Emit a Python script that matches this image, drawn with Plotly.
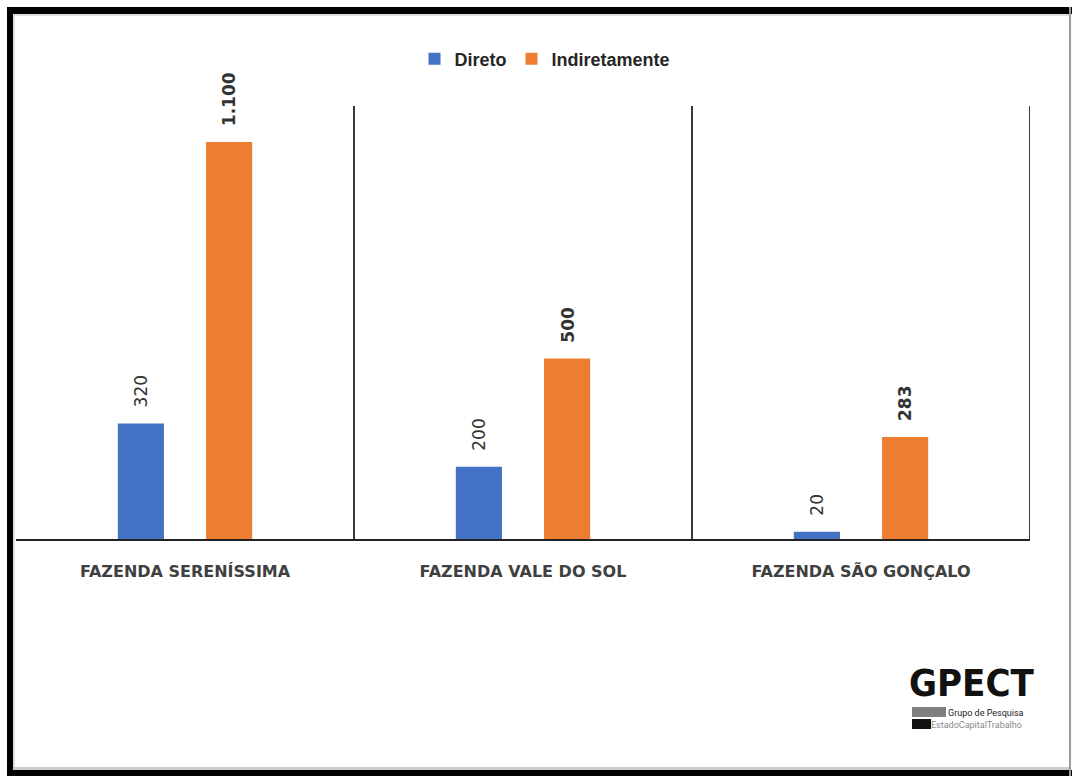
import plotly.graph_objects as go

categories = ["FAZENDA SERENÍSSIMA", "FAZENDA VALE DO SOL", "FAZENDA SÃO GONÇALO"]
direto = [320, 200, 20]
indiretamente = [1100, 500, 283]
series_names = ["Direto", "Indiretamente"]
colors = ["#4472C4", "#ED7D31"]

W, H = 1072, 776
L, R, T, B = 16, 1030, 106, 539  # plot area in page pixels
BARGAP, BARGROUPGAP = 0.478, 0.477


def px(x):
    return (x - L) / (R - L)


def py(y):
    return (B - y) / (B - T)


def fmt(v):
    return f"{v:,}".replace(",", ".")


fig = go.Figure()
for name, vals, col in zip(series_names, [direto, indiretamente], colors):
    fig.add_trace(go.Bar(x=categories, y=vals, name=name, marker_color=col,
                         marker_line_width=0))

# value labels placed above each bar (offset derived from bar layout)
cat_px = (R - L) / len(categories)
bar_off = (1 - BARGAP) * cat_px / 4
annotations = []
for s, (vals, bold) in enumerate([(direto, False), (indiretamente, True)]):
    shift = -bar_off if s == 0 else bar_off
    for c, v in zip(categories, vals):
        t = fmt(v)
        annotations.append(dict(
            x=c, y=v, xref="x", yref="y", text=f"<b>{t}</b>" if bold else t,
            textangle=-90, showarrow=False, xanchor="center", yanchor="bottom",
            xshift=shift, yshift=15, borderpad=0,
            font=dict(family="DejaVu Sans", size=17, color="#333333")))

shapes = []
# separators between categories
for i in range(len(categories)):
    shapes.append(dict(type="line", xref="x", yref="paper", x0=i + 0.5, x1=i + 0.5,
                       y0=0, y1=1, line=dict(color="#3a3a3a", width=2)))
# outer frame
frame = [
    (7, 7, W, 14, "black"),      # top
    (7, 7, 13, H, "black"),      # left
    (7, 770, W, H, "black"),     # bottom
    (1069, 7, 1071, H, "#9a9a9a"),  # right
    (13, 14, 1069, 16, "#dddddd"),  # inner shadow top
    (13, 14, 15, 770, "#dddddd"),   # inner shadow left
    (13, 767, 1069, 770, "#cccccc"),  # inner shadow bottom
]
for x0, y0, x1, y1, c in frame:
    shapes.append(dict(type="rect", xref="paper", yref="paper",
                       x0=px(x0), x1=px(x1), y0=py(y0), y1=py(y1),
                       fillcolor=c, line=dict(width=0), layer="above"))
# logo bars
shapes.append(dict(type="rect", xref="paper", yref="paper", x0=px(912), x1=px(946),
                   y0=py(707), y1=py(717), fillcolor="#7f7f7f", line=dict(width=0)))
shapes.append(dict(type="rect", xref="paper", yref="paper", x0=px(912), x1=px(931),
                   y0=py(719), y1=py(729), fillcolor="#111111", line=dict(width=0)))

annotations += [
    dict(text="<b>GPECT</b>", xref="paper", yref="paper", x=px(972), y=py(683),
         xanchor="center", yanchor="middle", showarrow=False, borderpad=0,
         font=dict(family="Liberation Sans Narrow, DejaVu Sans Condensed, Roboto", size=38, color="#111111")),
    dict(text="Grupo de Pesquisa", xref="paper", yref="paper", x=px(947), y=py(712.5),
         xanchor="left", yanchor="middle", showarrow=False, borderpad=0,
         font=dict(family="Liberation Sans Narrow, Roboto", size=9, color="#222222")),
    dict(text="EstadoCapitalTrabalho", xref="paper", yref="paper", x=px(930), y=py(725),
         xanchor="left", yanchor="middle", showarrow=False, borderpad=0,
         font=dict(family="Liberation Sans Narrow, Roboto", size=9, color="#8a8a8a")),
]

fig.update_layout(
    width=W, height=H,
    margin=dict(l=L, r=W - R, t=T, b=H - B, pad=0),
    paper_bgcolor="white", plot_bgcolor="white",
    barmode="group", bargap=BARGAP, bargroupgap=BARGROUPGAP,
    showlegend=True,
    legend=dict(orientation="h", x=px(545), y=py(59), xanchor="center", yanchor="middle",
                font=dict(family="Liberation Sans", size=18,
                          color="#262626", weight="bold"),
                itemwidth=30, tracegroupgap=0),
    xaxis=dict(showline=True, linecolor="#222222", linewidth=2, ticks="",
               tickfont=dict(family="DejaVu Sans", size=16, color="#404040", weight="bold"),
               ticklabelstandoff=17, showgrid=False, zeroline=False,
               range=[-0.5, len(categories) - 0.5]),
    yaxis=dict(range=[0, 1200], visible=False, showgrid=False, zeroline=False),
    shapes=shapes, annotations=annotations,
)

fig.write_html("out.html", config={"displayModeBar": False},
               post_script="document.body.style.margin='0';document.body.style.overflow='hidden';")
